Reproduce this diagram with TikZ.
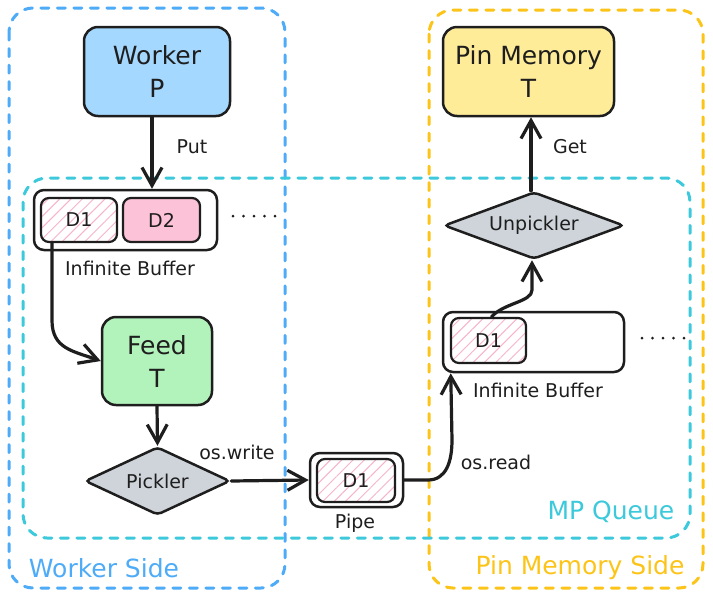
\documentclass[tikz,border=0pt]{standalone}
\usepackage{fontspec}
\setmainfont{DejaVu Sans}
\usetikzlibrary{shapes.geometric,arrows.meta,patterns.meta}
\definecolor{ink}{HTML}{1E1E1E}
\definecolor{blueside}{HTML}{4DABF7}
\definecolor{cyanq}{HTML}{3BC9DB}
\definecolor{yellowside}{HTML}{FCC419}
\definecolor{workerfill}{HTML}{A5D8FF}
\definecolor{pinfill}{HTML}{FFEC99}
\definecolor{feedfill}{HTML}{B2F2BB}
\definecolor{grayfill}{HTML}{CED4DA}
\definecolor{pinkfill}{HTML}{FCC2D7}
\definecolor{hatchpink}{HTML}{F7B3CB}
\begin{document}
\begin{tikzpicture}[x=1pt,y=-1pt,
  groupbox/.style={line width=3pt, dash pattern=on 8pt off 8.5pt, line cap=round, rounded corners=24pt},
  proc/.style={draw=ink, line width=2.5pt, rounded corners=14pt, align=center, text=ink,
               font=\fontsize{25}{33}\selectfont, inner sep=0pt},
  holder/.style={draw=ink, line width=2.5pt, rounded corners=10pt, inner sep=0pt, fill=white},
  item/.style={draw=ink, line width=2.2pt, rounded corners=8pt, inner sep=0pt, text=ink,
               font=\fontsize{19}{21}\selectfont},
  hatched/.style={pattern={Lines[angle=45,distance=8pt,line width=1pt]}, pattern color=hatchpink},
  decision/.style={diamond, draw=ink, fill=grayfill, line width=2.5pt, rounded corners=4pt,
               inner sep=0pt, text=ink, font=\fontsize{19}{21}\selectfont},
  lab/.style={font=\fontsize{19}{21}\selectfont, text=ink, inner sep=0pt},
  sidelab/.style={font=\fontsize{25}{27}\selectfont, inner sep=0pt},
  flow/.style={draw=ink, line width=3.2pt, line cap=round, line join=round,
               -{Straight Barb[length=18pt,width=20pt,line width=3.2pt]}},
  dotrow/.style={draw=ink, line width=3pt, line cap=round, dash pattern=on 0pt off 10.5pt}
]
\useasboundingbox (0,0) rectangle (713,598);

% group boxes
\draw[groupbox, draw=blueside] (9,8) rectangle (285,588);
\draw[groupbox, draw=yellowside] (429,10) rectangle (703,588);
\draw[groupbox, draw=cyanq] (23,178) rectangle (690,538);

\node[sidelab, text=blueside] (wside) at (104,568) {Worker Side};
\node[sidelab, text=yellowside] (pside) at (580,568) {Pin Memory Side};
\node[sidelab, text=cyanq] (mpq) at (611,512) {MP Queue};

% main boxes
\node[proc, fill=workerfill, minimum width=146pt, minimum height=89pt] (worker) at (157,71.5) {Worker\\P};
\node[proc, fill=pinfill, minimum width=171pt, minimum height=89pt] (pin) at (528.5,71.5) {Pin Memory\\T};
\node[proc, fill=feedfill, minimum width=110pt, minimum height=88pt] (feed) at (157,361) {Feed\\T};

% left infinite buffer
\node[holder, minimum width=183pt, minimum height=60pt] (bufL) at (125.5,220) {};
\node[item, hatched, minimum width=76pt, minimum height=44pt] (d1L) at (79,220) {D1};
\node[item, fill=pinkfill, minimum width=77pt, minimum height=44pt] (d2L) at (161.5,220) {D2};
\node[lab] (bufLlab) at (130,268) {Infinite Buffer};
\draw[dotrow] (233,216) -- (276,216);

% pickler and pipe
\node[decision, aspect=2.13, minimum width=145pt, minimum height=68pt] (pickler) at (157.5,481) {Pickler};
\node[holder, minimum width=93pt, minimum height=54pt] (pipe) at (356.5,480) {};
\node[item, hatched, minimum width=78pt, minimum height=43pt] (d1P) at (356,480.5) {D1};
\node[lab] (pipelab) at (355,523) {Pipe};
\node[lab] (oswrite) at (237,452) {os.write};
\node[lab] (osread) at (496,462) {os.read};

% right infinite buffer
\node[holder, minimum width=181pt, minimum height=60pt] (bufR) at (533.5,342) {};
\node[item, hatched, minimum width=75pt, minimum height=45pt] (d1R) at (488.5,340.5) {D1};
\node[lab] (bufRlab) at (538,390) {Infinite Buffer};
\draw[dotrow] (642,338) -- (685,338);

\node[decision, aspect=2.69, minimum width=180pt, minimum height=67pt] (unpickler) at (534,225.5) {Unpickler};

\node[lab] (put) at (192,147) {Put};
\node[lab] (get) at (570,147) {Get};

% connectors
\draw[flow] ([xshift=-5pt]worker.south) -- ([xshift=-5pt]worker.south |- bufL.north);
\draw[flow] ([xshift=-27pt]d1L.south) -- ++(0,78) .. controls +(0,28) and +(-28,-10) .. (feed.west);
\draw[flow] (feed.south) -- (pickler.north);
\draw[flow] (pickler.east) -- (pipe.west);
\coordinate (pbend) at (452,440);
\draw[flow] (pipe.east) -- (428,480) .. controls (446,480) and (452,462) .. (pbend)
  -- ([xshift=9pt]bufR.south west);
\coordinate (ubend) at (532,290);
\draw[flow] ([xshift=3pt]d1R.north) .. controls +(12,-14) and +(0,12) .. (ubend) -- ([xshift=-2pt]unpickler.south);
\draw[flow] ([xshift=-3pt]unpickler.north) -- ([xshift=-3pt]unpickler.north |- pin.south);
\end{tikzpicture}
\end{document}
